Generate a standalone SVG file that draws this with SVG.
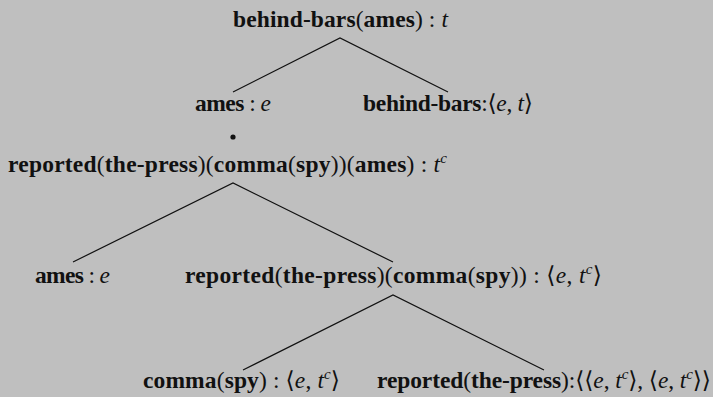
<svg xmlns="http://www.w3.org/2000/svg" width="713" height="397" viewBox="0 0 713 397">
  <style>
    text { font-family: "Liberation Serif", "DejaVu Serif", serif; font-size: 23.5px; fill: #111; }
    .b { font-weight: bold; }
    .n { font-weight: normal; }
    .i { font-style: italic; font-weight: normal; }
    .sup { font-style: italic; font-weight: normal; font-size: 15px; }
    .edge { stroke: #111; stroke-width: 1.2; fill: none; }
  </style>
  <rect width="713" height="397" fill="#bfbfbf"/>

  <g id="connectors">
    <path class="edge" d="M233,92 L340,38 L448,92"/>
    <path class="edge" d="M73,262 L233,183 L393,262"/>
    <path class="edge" d="M243,370 L393,295 L544,370"/>
    <circle cx="233" cy="137" r="2.6" fill="#111"/>
  </g>

  <g id="root">
    <text x="233" y="27" textLength="215"><tspan class="b">behind-bars</tspan><tspan class="n">(</tspan><tspan class="b">ames</tspan><tspan class="n">) : </tspan><tspan class="i">t</tspan></text>
  </g>

  <g id="ames-1">
    <text x="195" y="111" textLength="76"><tspan class="b">ames</tspan><tspan class="n"> : </tspan><tspan class="i">e</tspan></text>
  </g>

  <g id="behind-bars">
    <text x="363" y="111" textLength="170"><tspan class="b">behind-bars</tspan><tspan class="n">:⟨</tspan><tspan class="i">e</tspan><tspan class="n">, </tspan><tspan class="i">t</tspan><tspan class="n">⟩</tspan></text>
  </g>

  <g id="reported-full">
    <text x="8" y="172" textLength="439"><tspan class="b">reported</tspan><tspan class="n">(</tspan><tspan class="b">the-press</tspan><tspan class="n">)(</tspan><tspan class="b">comma</tspan><tspan class="n">(</tspan><tspan class="b">spy</tspan><tspan class="n">))(</tspan><tspan class="b">ames</tspan><tspan class="n">) : </tspan><tspan class="i">t</tspan><tspan class="sup" dy="-9">c</tspan></text>
  </g>

  <g id="ames-2">
    <text x="35" y="283" textLength="75"><tspan class="b">ames</tspan><tspan class="n"> : </tspan><tspan class="i">e</tspan></text>
  </g>

  <g id="reported-comma">
    <text x="185" y="283" textLength="417"><tspan class="b">reported</tspan><tspan class="n">(</tspan><tspan class="b">the-press</tspan><tspan class="n">)(</tspan><tspan class="b">comma</tspan><tspan class="n">(</tspan><tspan class="b">spy</tspan><tspan class="n">)) : ⟨</tspan><tspan class="i">e</tspan><tspan class="n">, </tspan><tspan class="i">t</tspan><tspan class="sup" dy="-9">c</tspan><tspan class="n" dy="9">⟩</tspan></text>
  </g>

  <g id="comma-spy">
    <text x="143" y="388" textLength="197"><tspan class="b">comma</tspan><tspan class="n">(</tspan><tspan class="b">spy</tspan><tspan class="n">) : ⟨</tspan><tspan class="i">e</tspan><tspan class="n">, </tspan><tspan class="i">t</tspan><tspan class="sup" dy="-9">c</tspan><tspan class="n" dy="9">⟩</tspan></text>
  </g>

  <g id="reported-press">
    <text x="377" y="388" textLength="334"><tspan class="b">reported</tspan><tspan class="n">(</tspan><tspan class="b">the-press</tspan><tspan class="n">):⟨⟨</tspan><tspan class="i">e</tspan><tspan class="n">, </tspan><tspan class="i">t</tspan><tspan class="sup" dy="-9">c</tspan><tspan class="n" dy="9">⟩, ⟨</tspan><tspan class="i">e</tspan><tspan class="n">, </tspan><tspan class="i">t</tspan><tspan class="sup" dy="-9">c</tspan><tspan class="n" dy="9">⟩⟩</tspan></text>
  </g>
</svg>
